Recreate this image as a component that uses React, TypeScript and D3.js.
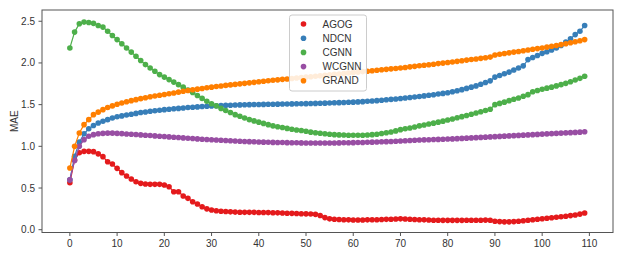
import React from "react";
import * as d3 from "d3";

const W = 623;
const H = 257;

const seriesNames = ["AGOG", "NDCN", "CGNN", "WCGNN", "GRAND"];
const seriesColors = ["#e41a1c", "#377eb8", "#4daf4a", "#984ea3", "#ff7f00"];

const xTicks = [0, 10, 20, 30, 40, 50, 60, 70, 80, 90, 100, 110];
const yTicks = [0.0, 0.5, 1.0, 1.5, 2.0, 2.5];

const AGOG = [
  0.564, 0.836, 0.923, 0.94, 0.94, 0.936, 0.91, 0.876, 0.815, 0.788,
  0.736, 0.684, 0.644, 0.608, 0.576, 0.556, 0.548, 0.544, 0.544, 0.544,
  0.536, 0.516, 0.456, 0.456, 0.404, 0.376, 0.336, 0.308, 0.276, 0.25,
  0.236, 0.228, 0.222, 0.218, 0.214, 0.211, 0.209, 0.208, 0.208, 0.208,
  0.207, 0.206, 0.205, 0.204, 0.202, 0.2, 0.198, 0.196, 0.194, 0.192,
  0.19, 0.188, 0.184, 0.17, 0.145, 0.13, 0.125, 0.122, 0.12, 0.118,
  0.117, 0.117, 0.117, 0.118, 0.119, 0.12, 0.122, 0.124, 0.126, 0.128,
  0.13, 0.128, 0.125, 0.122, 0.12, 0.118, 0.116, 0.114, 0.113, 0.112,
  0.112, 0.112, 0.112, 0.112, 0.113, 0.114, 0.114, 0.114, 0.115, 0.114,
  0.102, 0.097, 0.094, 0.094, 0.097, 0.102, 0.108, 0.114, 0.12, 0.126,
  0.132, 0.138, 0.144, 0.15, 0.156, 0.162, 0.169, 0.177, 0.187, 0.2,
];

const NDCN = [
  0.6, 0.88, 1.05, 1.15, 1.21, 1.25, 1.28, 1.3, 1.32, 1.34,
  1.355, 1.365, 1.375, 1.385, 1.395, 1.405, 1.412, 1.42, 1.427, 1.433,
  1.44, 1.445, 1.45, 1.455, 1.46, 1.465, 1.469, 1.473, 1.477, 1.48,
  1.483, 1.486, 1.489, 1.491, 1.493, 1.495, 1.497, 1.498, 1.5, 1.501,
  1.502, 1.503, 1.504, 1.505, 1.506, 1.507, 1.508, 1.509, 1.51, 1.511,
  1.512, 1.513, 1.515, 1.516, 1.518, 1.52, 1.522, 1.524, 1.526, 1.528,
  1.53, 1.533, 1.536, 1.54, 1.544, 1.548, 1.553, 1.558, 1.563, 1.568,
  1.574, 1.58, 1.586, 1.592, 1.598, 1.605, 1.612, 1.619, 1.627, 1.635,
  1.643, 1.655, 1.667, 1.68, 1.695, 1.71, 1.725, 1.745, 1.765, 1.785,
  1.83, 1.85, 1.87, 1.89, 1.915, 1.94, 1.965, 2.04, 2.065, 2.09,
  2.115, 2.135, 2.155, 2.18, 2.21, 2.25, 2.29, 2.34, 2.38, 2.45,
];

const CGNN = [
  2.18, 2.37, 2.47, 2.49, 2.485, 2.475, 2.45, 2.43, 2.38, 2.33,
  2.28, 2.23, 2.18, 2.13, 2.08, 2.03, 1.98, 1.94, 1.9, 1.86,
  1.83, 1.8, 1.77, 1.74, 1.71, 1.675, 1.645, 1.61, 1.575, 1.54,
  1.51, 1.485, 1.455, 1.43, 1.405, 1.38, 1.36, 1.34, 1.32, 1.305,
  1.29, 1.275, 1.26, 1.245, 1.235, 1.225, 1.215, 1.205, 1.195, 1.19,
  1.18, 1.17, 1.163, 1.157, 1.15, 1.145, 1.14, 1.137, 1.135, 1.133,
  1.132, 1.132, 1.133, 1.135, 1.14, 1.145, 1.153, 1.162, 1.172, 1.185,
  1.2, 1.21, 1.22, 1.232, 1.245, 1.256, 1.267, 1.278, 1.29, 1.302,
  1.315, 1.328, 1.342, 1.356, 1.37, 1.385, 1.4, 1.415, 1.43, 1.445,
  1.5, 1.515, 1.53, 1.548, 1.565, 1.58, 1.6, 1.62, 1.655, 1.67,
  1.685, 1.698, 1.71, 1.725, 1.74, 1.755, 1.775, 1.795, 1.815, 1.84,
];

const WCGNN = [
  0.6, 0.83, 1.0, 1.08, 1.12, 1.14, 1.15, 1.155, 1.158, 1.158,
  1.155, 1.152, 1.148, 1.145, 1.141, 1.137, 1.133, 1.129, 1.125, 1.121,
  1.117, 1.113, 1.109, 1.105, 1.101, 1.097, 1.093, 1.089, 1.085, 1.081,
  1.078, 1.075, 1.072, 1.069, 1.066, 1.063, 1.06, 1.058, 1.056, 1.054,
  1.052, 1.05, 1.048, 1.047, 1.046, 1.045, 1.044, 1.043, 1.042, 1.041,
  1.04, 1.04, 1.04, 1.04, 1.04, 1.04, 1.04, 1.041, 1.042, 1.043,
  1.044, 1.045, 1.046, 1.048, 1.05, 1.052, 1.054, 1.056, 1.058, 1.06,
  1.063, 1.066, 1.069, 1.072, 1.075, 1.077, 1.079, 1.081, 1.083, 1.085,
  1.087, 1.089, 1.092, 1.095, 1.098, 1.101, 1.104, 1.107, 1.11, 1.113,
  1.116, 1.119, 1.122, 1.125, 1.128, 1.131, 1.134, 1.137, 1.14, 1.143,
  1.146, 1.149, 1.152, 1.155, 1.158, 1.161, 1.164, 1.167, 1.17, 1.174,
];

const GRAND = [
  0.74, 1.0, 1.16, 1.26, 1.32, 1.38, 1.41, 1.44, 1.465, 1.485,
  1.505, 1.52, 1.535, 1.548, 1.56, 1.572, 1.583, 1.594, 1.604, 1.613,
  1.622, 1.63, 1.64, 1.65, 1.66, 1.67, 1.678, 1.686, 1.694, 1.702,
  1.71, 1.717, 1.724, 1.731, 1.737, 1.743, 1.749, 1.755, 1.761, 1.767,
  1.775, 1.781, 1.786, 1.792, 1.797, 1.803, 1.808, 1.814, 1.819, 1.825,
  1.83, 1.835, 1.841, 1.846, 1.852, 1.857, 1.863, 1.868, 1.874, 1.879,
  1.885, 1.89, 1.896, 1.901, 1.907, 1.912, 1.918, 1.923, 1.929, 1.934,
  1.94, 1.946, 1.953, 1.959, 1.966, 1.972, 1.979, 1.985, 1.992, 1.998,
  2.005, 2.012, 2.019, 2.026, 2.034, 2.041, 2.048, 2.055, 2.062, 2.07,
  2.095, 2.105, 2.113, 2.121, 2.13, 2.138, 2.147, 2.155, 2.164, 2.172,
  2.18, 2.19, 2.2, 2.21, 2.22, 2.23, 2.242, 2.254, 2.266, 2.28,
];

const seriesValues = [AGOG, NDCN, CGNN, WCGNN, GRAND];

const plot = { left: 42, right: 613, top: 10, bottom: 232.5 };

export default function App() {
  const x = d3.scaleLinear().domain([-5.9, 115]).range([plot.left, plot.right]);
  const y = d3.scaleLinear().domain([-0.0335, 2.635]).range([plot.bottom, plot.top]);
  const line = d3
    .line<number>()
    .x((_, i) => x(i))
    .y((d) => y(d));

  const font = "'Liberation Sans', Arial, sans-serif";
  const textColor = "#333";
  const axisColor = "#555";

  return (
    <svg
      width={W}
      height={H}
      style={{ position: "absolute", left: 0, top: 0, background: "#fff" }}
      fontFamily={font}
    >
      <rect x={0} y={0} width={W} height={H} fill="#fff" />
      {seriesValues.map((vals, s) => (
        <g key={seriesNames[s]}>
          <path d={line(vals) || ""} fill="none" stroke={seriesColors[s]} strokeWidth={1.2} />
          {vals.map((v, i) => (
            <circle key={i} cx={x(i)} cy={y(v)} r={2.8} fill={seriesColors[s]} />
          ))}
        </g>
      ))}
      <rect
        x={plot.left}
        y={plot.top}
        width={plot.right - plot.left}
        height={plot.bottom - plot.top}
        fill="none"
        stroke={axisColor}
        strokeWidth={1}
      />
      {yTicks.map((t) => (
        <g key={t}>
          <line x1={plot.left - 3.5} x2={plot.left} y1={y(t)} y2={y(t)} stroke={axisColor} />
          <text
            x={plot.left - 7}
            y={y(t)}
            dy="0.35em"
            textAnchor="end"
            fontSize={10}
            fill={textColor}
          >
            {t.toFixed(1)}
          </text>
        </g>
      ))}
      {xTicks.map((t) => (
        <g key={t}>
          <line x1={x(t)} x2={x(t)} y1={plot.bottom} y2={plot.bottom + 3.5} stroke={axisColor} />
          <text x={x(t)} y={plot.bottom + 14.5} textAnchor="middle" fontSize={10} fill={textColor}>
            {t}
          </text>
        </g>
      ))}
      <text
        transform={`translate(17.5, ${(plot.top + plot.bottom) / 2}) rotate(-90)`}
        textAnchor="middle"
        fontSize={10}
        fill={textColor}
      >
        MAE
      </text>
      <g>
        <rect x={289.5} y={15} width={77} height={76} rx={2.5} fill="#fff" fillOpacity={0.85} stroke="#ccc" />
        {seriesNames.map((name, i) => (
          <g key={name}>
            <circle cx={303.5} cy={24 + i * 14.2} r={2.8} fill={seriesColors[i]} />
            <text x={322.5} y={24 + i * 14.2} dy="0.35em" fontSize={10} fill={textColor}>
              {name}
            </text>
          </g>
        ))}
      </g>
    </svg>
  );
}
